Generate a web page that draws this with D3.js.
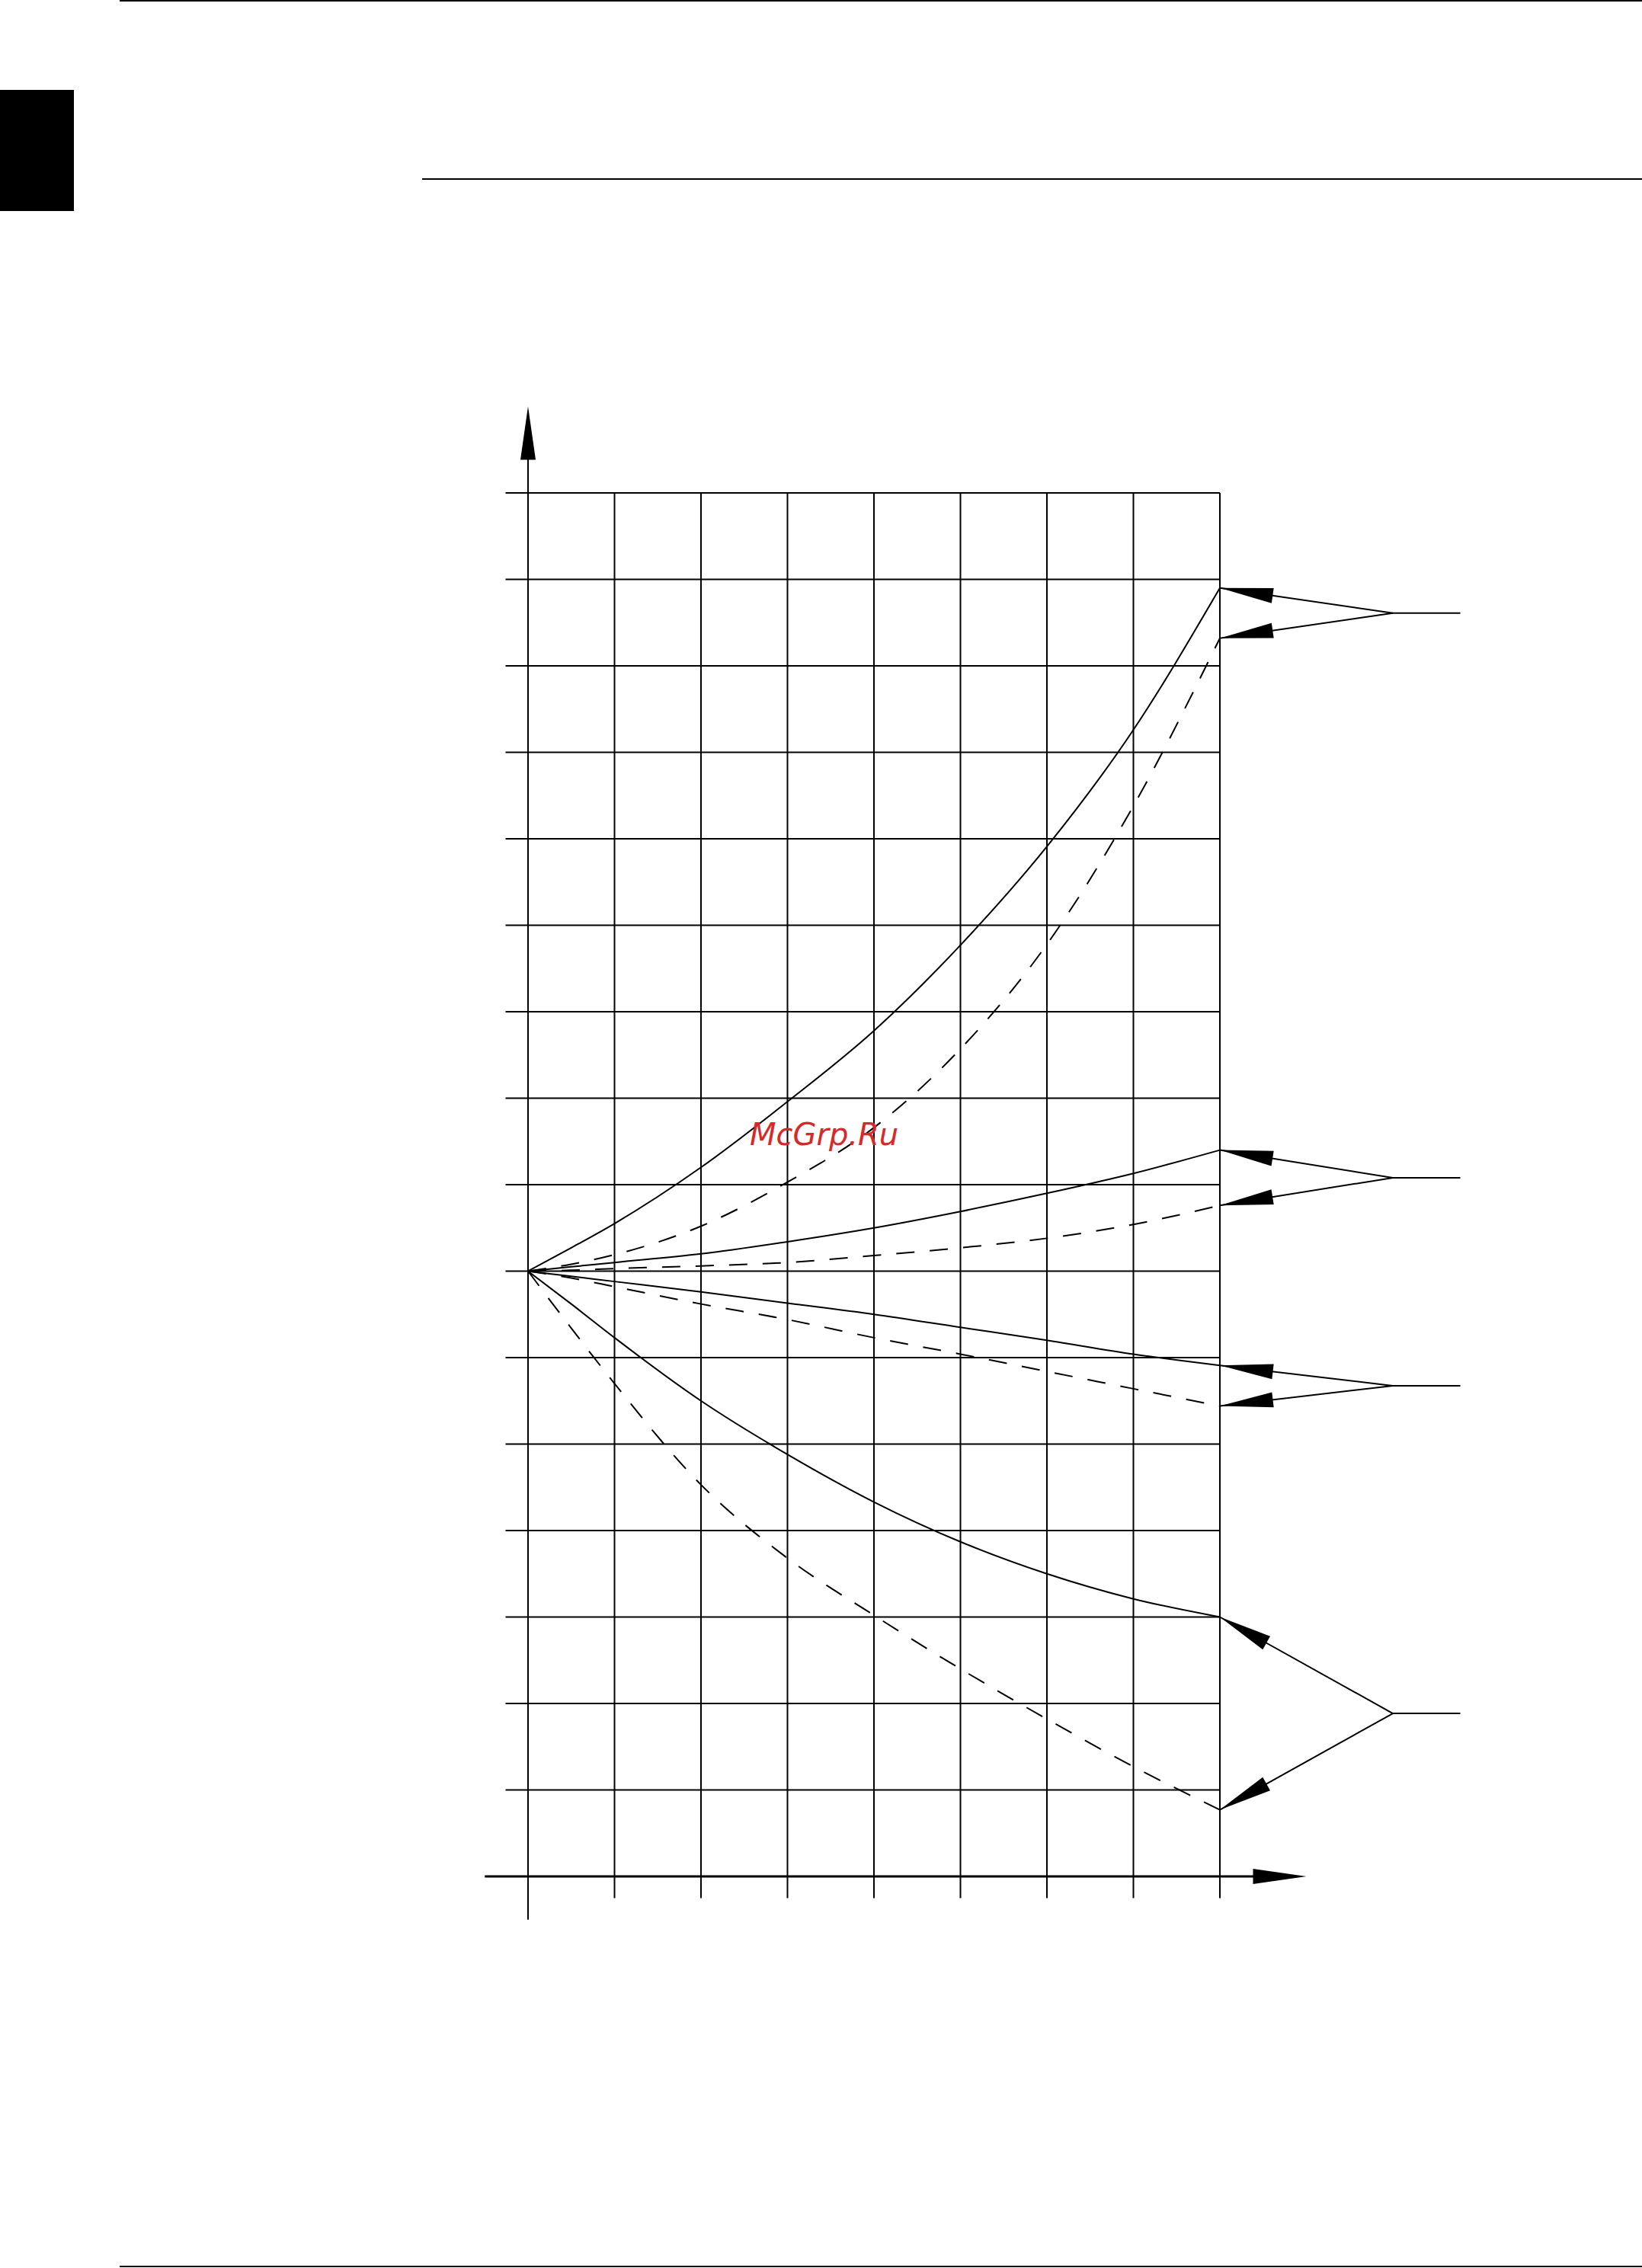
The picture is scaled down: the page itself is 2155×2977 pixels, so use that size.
<!DOCTYPE html>
<html>
<head>
<meta charset="utf-8">
<script src="https://cdn.jsdelivr.net/npm/d3@7"></script>
<style>
  html, body { margin: 0; padding: 0; background: #fff; }
  svg { display: block; }
</style>
</head>
<body>
<script>
// ---- data (grid units: 1 = one cell) ----
const xs      = [0, 0.5, 1, 2, 3, 4, 5, 6, 7, 8];
const solid1  = [0, 0.27, 0.55, 1.20, 1.96, 2.78, 3.77, 4.91, 6.26, 7.90];
const dashed1 = [0, 0.08, 0.19, 0.52, 1.03, 1.66, 2.57, 3.78, 5.38, 7.32];
const solid2  = [0, 0.05, 0.10, 0.20, 0.34, 0.50, 0.69, 0.90, 1.13, 1.40];
const dashed2 = [0, 0.01, 0.03, 0.06, 0.10, 0.18, 0.27, 0.38, 0.54, 0.76];
const solid3  = [0, -0.06, -0.12, -0.24, -0.37, -0.50, -0.65, -0.80, -0.96, -1.09];
const dashed3 = [0, -0.08, -0.18, -0.38, -0.56, -0.77, -0.96, -1.16, -1.36, -1.56];
const solid4  = [0, -0.38, -0.77, -1.50, -2.12, -2.67, -3.13, -3.50, -3.79, -4.00];
const dashed4 = [0, -0.66, -1.30, -2.47, -3.32, -3.98, -4.60, -5.18, -5.73, -6.23];
const xTicks  = d3.range(0, 9);      // vertical grid lines
const yTicks  = d3.range(-7, 10);    // horizontal grid lines
const watermark = "McGrp.Ru";

// ---- page ----
const W = 2155, H = 2977;
const svg = d3.select("body").append("svg").attr("width", W).attr("height", H);
svg.append("rect").attr("width", W).attr("height", H).attr("fill", "#fff");

// page decorations
svg.append("line").attr("x1", 157).attr("x2", W).attr("y1", 1).attr("y2", 1)
  .attr("stroke", "#000").attr("stroke-width", 2);
svg.append("rect").attr("x", 0).attr("y", 118).attr("width", 97).attr("height", 159).attr("fill", "#000");
svg.append("line").attr("x1", 554).attr("x2", W).attr("y1", 235).attr("y2", 235)
  .attr("stroke", "#000").attr("stroke-width", 2);
svg.append("line").attr("x1", 157).attr("x2", W).attr("y1", 2975).attr("y2", 2975)
  .attr("stroke", "#000").attr("stroke-width", 2);

// ---- scales ----
const x = d3.scaleLinear().domain([0, 8]).range([693, 1601]);
const y = d3.scaleLinear().domain([-7, 9]).range([2463, 647]);

const g = svg.append("g");

// horizontal grid lines (except the x axis)
g.selectAll("line.h").data(yTicks.filter(v => v !== -7)).join("line")
  .attr("class", "h")
  .attr("x1", x(-0.26)).attr("x2", x(8))
  .attr("y1", d => y(d)).attr("y2", d => y(d))
  .attr("stroke", "#000").attr("stroke-width", 2);

// vertical grid lines (except the y axis)
g.selectAll("line.v").data(xTicks.filter(v => v !== 0)).join("line")
  .attr("class", "v")
  .attr("x1", d => x(d)).attr("x2", d => x(d))
  .attr("y1", y(9)).attr("y2", y(-7.25))
  .attr("stroke", "#000").attr("stroke-width", 2);

// y axis with arrow
g.append("line").attr("x1", x(0)).attr("x2", x(0))
  .attr("y1", y(9.5)).attr("y2", y(-7.5))
  .attr("stroke", "#000").attr("stroke-width", 2);
g.append("path")
  .attr("d", `M${x(0)},${y(10)} L${x(0) - 10},${y(10) + 70} L${x(0) + 10},${y(10) + 70} Z`)
  .attr("fill", "#000");

// x axis with arrow
g.append("line").attr("x1", x(-0.5)).attr("x2", x(8.6))
  .attr("y1", y(-7)).attr("y2", y(-7))
  .attr("stroke", "#000").attr("stroke-width", 3);
g.append("path")
  .attr("d", `M${x(9)},${y(-7)} L${x(9) - 70},${y(-7) - 10} L${x(9) - 70},${y(-7) + 10} Z`)
  .attr("fill", "#000");

// ---- curves ----
const line = d3.line().x(d => x(d[0])).y(d => y(d[1])).curve(d3.curveMonotoneX);
const series = [
  { v: solid1, dash: null }, { v: dashed1, dash: "24,20" },
  { v: solid2, dash: null }, { v: dashed2, dash: "24,20" },
  { v: solid3, dash: null }, { v: dashed3, dash: "24,20" },
  { v: solid4, dash: null }, { v: dashed4, dash: "24,20" }
];
g.selectAll("path.curve").data(series).join("path")
  .attr("class", "curve")
  .attr("d", s => line(xs.map((xv, i) => [xv, s.v[i]])))
  .attr("fill", "none").attr("stroke", "#000").attr("stroke-width", 2)
  .attr("stroke-dasharray", s => s.dash);

// ---- annotation leaders ----
const pairs = [[solid1, dashed1], [solid2, dashed2], [solid3, dashed3], [solid4, dashed4]];
const last = xs.length - 1;
pairs.forEach(([a, b]) => {
  const ya = y(a[last]), yb = y(b[last]);
  const ax = x(10), ay = (ya + yb) / 2;
  g.append("line").attr("x1", ax).attr("x2", x(10.78)).attr("y1", ay).attr("y2", ay)
    .attr("stroke", "#000").attr("stroke-width", 2);
  [ya, yb].forEach(ty => {
    const tx = x(8);
    g.append("line").attr("x1", ax).attr("y1", ay).attr("x2", tx).attr("y2", ty)
      .attr("stroke", "#000").attr("stroke-width", 2);
    const dx = ax - tx, dy = ay - ty, L = Math.hypot(dx, dy);
    const ux = dx / L, uy = dy / L, px = -uy, py = ux;
    const bx = tx + ux * 70, by = ty + uy * 70;
    g.append("path")
      .attr("d", `M${tx},${ty} L${bx + px * 10},${by + py * 10} L${bx - px * 10},${by - py * 10} Z`)
      .attr("fill", "#000");
  });
});

// watermark
svg.append("text").attr("x", 984).attr("y", 1503)
  .attr("font-family", "DejaVu Sans, sans-serif").attr("font-style", "oblique")
  .attr("font-size", 40).attr("fill", "#d42a2a")
  .text(watermark);
</script>
</body>
</html>
